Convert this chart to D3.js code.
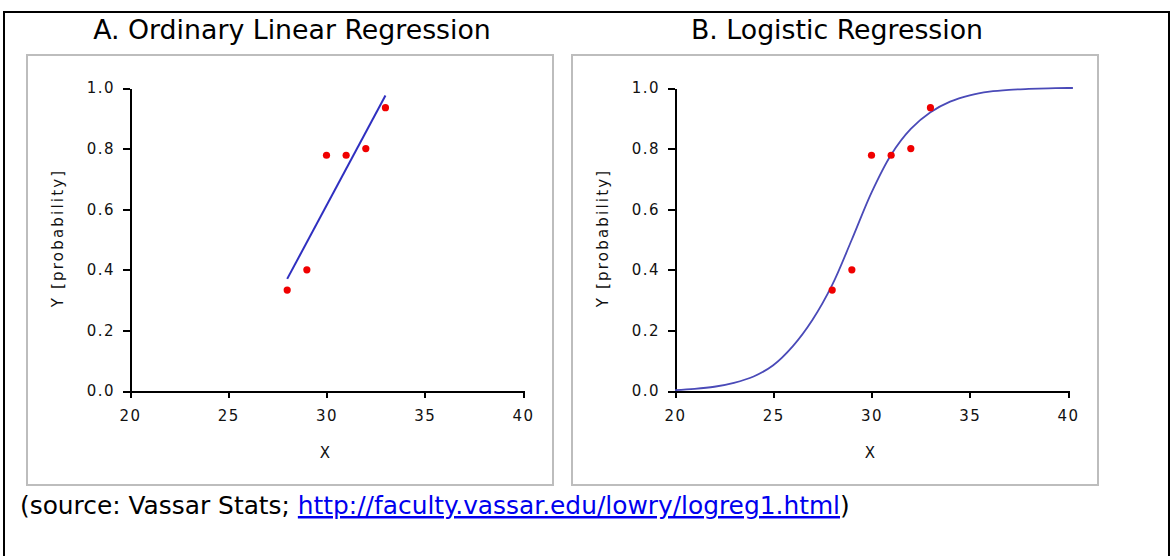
<!DOCTYPE html>
<html>
<head>
<meta charset="utf-8">
<script src="https://cdn.jsdelivr.net/npm/d3@7"></script>
<style>
  body { margin: 0; background: #fff; }
  svg { display: block; }
</style>
</head>
<body>
<div id="container"></div>
<script>
const width = 1172;
const height = 556;

// observed proportions (both panels)
const obsX = [28, 29, 30, 31, 32, 33];
const obsY = [0.333, 0.40, 0.778, 0.778, 0.80, 0.935];

// fitted straight line, panel A
const linX = [28, 33];
const linY = [0.37, 0.975];

// fitted logistic curve, panel B
const logX = [20, 21, 22, 23, 24, 25, 26, 27, 28, 29, 30, 31, 32, 33, 34, 35, 36, 37, 38, 39, 40, 40.25];
const logY = [0.003, 0.007, 0.014, 0.027, 0.048, 0.085, 0.148, 0.235, 0.35, 0.5, 0.655, 0.78, 0.865, 0.92, 0.955, 0.976, 0.988, 0.994, 0.997, 0.999, 1.0, 1.0];

const xTicks = [20, 25, 30, 35, 40];
const yTicks = [0, 0.2, 0.4, 0.6, 0.8, 1.0];
const titles = ["A. Ordinary Linear Regression", "B. Logistic Regression"];

const viz = d3.select("#container").append("svg").attr("width", width).attr("height", height);

// outer frame, runs off the bottom
viz.append("rect").attr("x", 4).attr("y", 12).attr("width", 1165).attr("height", 600)
  .attr("fill", "none").attr("stroke", "#000").attr("stroke-width", 2);

const panelShift = 545;

titles.forEach((title, i) => {
  const ox = i * panelShift;
  const g = viz.append("g");

  g.append("rect").attr("x", 27 + ox).attr("y", 55).attr("width", 526).attr("height", 430)
    .attr("fill", "#fff").attr("stroke", "#bdbdbd").attr("stroke-width", 2);

  let xScale = d3.scaleLinear().domain([20, 40]).range([130 + ox, 523 + ox]);
  let yScale = d3.scaleLinear().domain([0, 1]).range([391, 88]);

  // title, fitted to the width
  const t = g.append("text").text(title)
    .attr("x", 292 + ox).attr("y", 39).attr("text-anchor", "middle")
    .attr("font-family", "DejaVu Sans").attr("font-size", 20).attr("fill", "#000");
  const refLen = viz.append("text").text(titles[0]).attr("font-family", "DejaVu Sans").attr("font-size", 20);
  const fs = 20 * 398 / refLen.node().getComputedTextLength();
  refLen.remove();
  t.attr("font-size", fs);

  let yAxis = d3.axisLeft(yScale).tickValues(yTicks).tickFormat(d3.format(".1f"))
    .tickSize(7).tickSizeOuter(0).tickPadding(8);
  let xAxis = d3.axisBottom(xScale).tickValues(xTicks).tickFormat(d3.format("d"))
    .tickSize(7).tickSizeOuter(0).tickPadding(12);

  let yAxisGroup = g.append("g").attr("transform", "translate(" + (130 + ox) + ",0)").call(yAxis);
  let xAxisGroup = g.append("g").attr("transform", "translate(0," + 391 + ")").call(xAxis);

  [xAxisGroup, yAxisGroup].forEach(ax => {
    ax.selectAll("path, line").attr("stroke", "#000").attr("stroke-width", 2).attr("shape-rendering", "crispEdges");
    ax.selectAll("text").attr("font-family", "DejaVu Sans").attr("font-size", 15)
      .attr("letter-spacing", 1.5).attr("fill", "#111");
  });

  g.append("text").text("X").attr("x", 325 + ox).attr("y", 458).attr("text-anchor", "middle")
    .attr("font-family", "DejaVu Sans").attr("font-size", 15).attr("fill", "#111");

  g.append("text").text("Y [probability]")
    .attr("transform", "translate(" + (63 + ox) + ",238) rotate(-90)")
    .attr("text-anchor", "middle")
    .attr("font-family", "DejaVu Sans").attr("font-size", 15).attr("letter-spacing", 2.2).attr("fill", "#111");

  const line = d3.line().x(d => xScale(d[0])).y(d => yScale(d[1]));
  if (i === 0) {
    g.append("path").datum(linX.map((x, k) => [x, linY[k]]))
      .attr("d", line).attr("fill", "none").attr("stroke", "#2f2fc0").attr("stroke-width", 2);
  } else {
    g.append("path").datum(logX.map((x, k) => [x, logY[k]]))
      .attr("d", line.curve(d3.curveCatmullRom)).attr("fill", "none").attr("stroke", "#4a4ab8").attr("stroke-width", 1.8);
  }

  g.selectAll(".datapoint").data(obsX.map((x, k) => [x, obsY[k]])).enter()
    .append("circle").attr("class", "datapoint")
    .attr("cx", d => xScale(d[0])).attr("cy", d => yScale(d[1])).attr("r", 3.6)
    .attr("fill", "#f00000");
});

// source line
const src = viz.append("text").attr("x", 20).attr("y", 514)
  .attr("font-family", "DejaVu Sans").attr("font-size", 20).attr("fill", "#000");
src.append("tspan").text("(source: Vassar Stats; ");
src.append("tspan").text("http://faculty.vassar.edu/lowry/logreg1.html")
  .attr("fill", "#0000ee").attr("text-decoration", "underline");
src.append("tspan").text(")");
const srcLen = src.node().getComputedTextLength();
src.attr("font-size", 20 * 830 / srcLen);
</script>
</body>
</html>
